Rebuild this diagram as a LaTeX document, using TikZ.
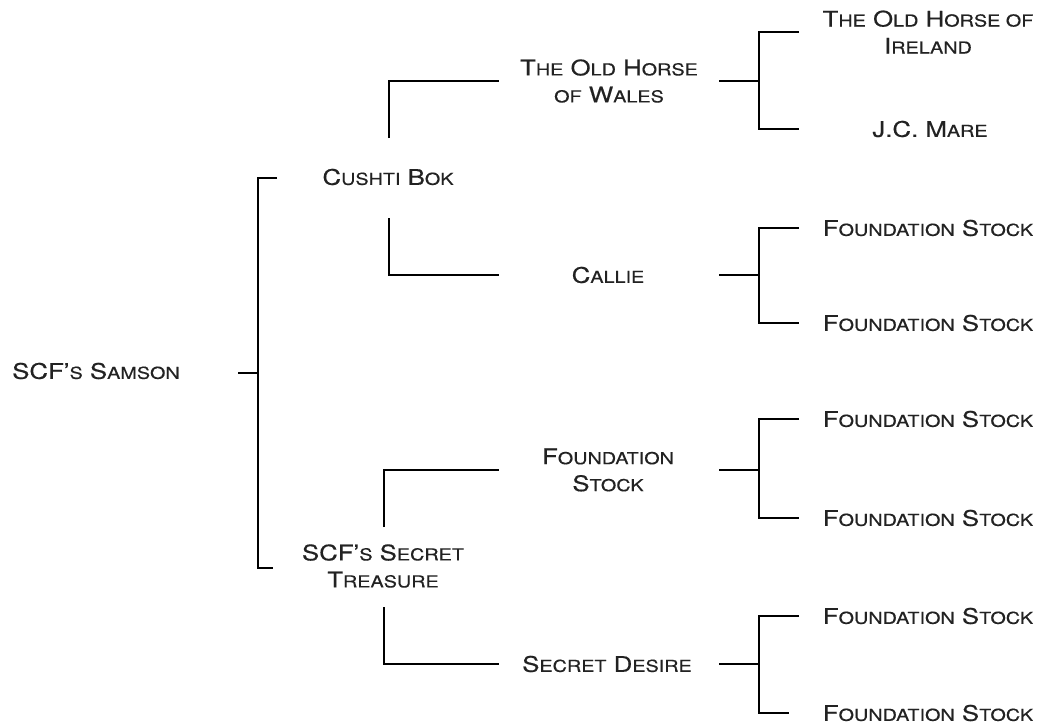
\documentclass[tikz,border=0pt]{standalone}
\usepackage{fontspec}
\setmainfont{TeX Gyre Heros}[FakeStretch=1.2,FakeBold=0.4]
\definecolor{ink}{HTML}{222222}
\newcommand{\sm}[1]{{\fontsize{16.5}{27}\selectfont #1}}
\begin{document}
\begin{tikzpicture}[x=1pt,y=-1pt,
  lbl/.style={inner sep=0pt,align=center,font=\fontsize{21.5}{27}\selectfont,text=ink},
  conn/.style={draw=black,line width=1.3pt}]
\useasboundingbox (0,0) rectangle (1044,726);
% level 0
\node[lbl] (samson) at (96,371) {SCF'\sm{S} S\sm{AMSON}};
% level 1
\node[lbl] (cushti) at (388,177) {C\sm{USHTI} B\sm{OK}};
\node[lbl] (treasure) at (383,566) {SCF'\sm{S} S\sm{ECRET}\\T\sm{REASURE}};
% level 2
\node[lbl] (wales) at (609,81) {T\sm{HE} O\sm{LD} H\sm{ORSE}\\\sm{OF} W\sm{ALES}};
\node[lbl] (callie) at (608,275) {C\sm{ALLIE}};
\node[lbl] (fsmid) at (608,470) {F\sm{OUNDATION}\\S\sm{TOCK}};
\node[lbl] (desire) at (607,664) {S\sm{ECRET} D\sm{ESIRE}};
% level 3
\node[lbl] (ireland) at (928,32) {T\sm{HE} O\sm{LD} H\sm{ORSE OF}\\I\sm{RELAND}};
\node[lbl] (mare) at (930,129) {J.C. M\sm{ARE}};
\node[lbl] (fsa) at (928,228) {F\sm{OUNDATION} S\sm{TOCK}};
\node[lbl] (fsb) at (928,323) {F\sm{OUNDATION} S\sm{TOCK}};
\node[lbl] (fsc) at (928,419) {F\sm{OUNDATION} S\sm{TOCK}};
\node[lbl] (fsd) at (928,518) {F\sm{OUNDATION} S\sm{TOCK}};
\node[lbl] (fse) at (928,616) {F\sm{OUNDATION} S\sm{TOCK}};
\node[lbl] (fsf) at (928,713) {F\sm{OUNDATION} S\sm{TOCK}};
% level 0 bracket
\coordinate (s0) at (238,373);
\coordinate (s1) at (258,373);
\coordinate (st) at (258,178);
\coordinate (ste) at (277,178);
\coordinate (sb) at (258,568);
\coordinate (sbe) at (273,568);
\draw[conn] (s0) -- (s1);
\draw[conn] (ste) -- (st) -- (sb) -- (sbe);
% level 1 brackets
\coordinate (c1) at (389,138);
\coordinate (c1t) at (389,81);
\coordinate (c1e) at (499,81);
\coordinate (c2) at (389,218);
\coordinate (c2b) at (389,275);
\coordinate (c2e) at (499,275);
\draw[conn] (c1) -- (c1t) -- (c1e);
\draw[conn] (c2) -- (c2b) -- (c2e);
\coordinate (t1) at (384,527);
\coordinate (t1t) at (384,470);
\coordinate (t1e) at (499,470);
\coordinate (t2) at (384,607);
\coordinate (t2b) at (384,664);
\coordinate (t2e) at (499,664);
\draw[conn] (t1) -- (t1t) -- (t1e);
\draw[conn] (t2) -- (t2b) -- (t2e);
% level 2 brackets
\foreach \n/\ym/\ya/\yb/\xe in {w/81/32/129/799,c/275/228/323/799,f/470/419/518/799,d/664/616/713/789}{
  \coordinate (\n0) at (719,\ym);
  \coordinate (\n1) at (759,\ym);
  \coordinate (\n t) at (759,\ya);
  \coordinate (\n te) at (799,\ya);
  \coordinate (\n b) at (759,\yb);
  \coordinate (\n be) at (\xe,\yb);
  \draw[conn] (\n0) -- (\n1);
  \draw[conn] (\n te) -- (\n t) -- (\n b) -- (\n be);
}
\end{tikzpicture}
\end{document}
